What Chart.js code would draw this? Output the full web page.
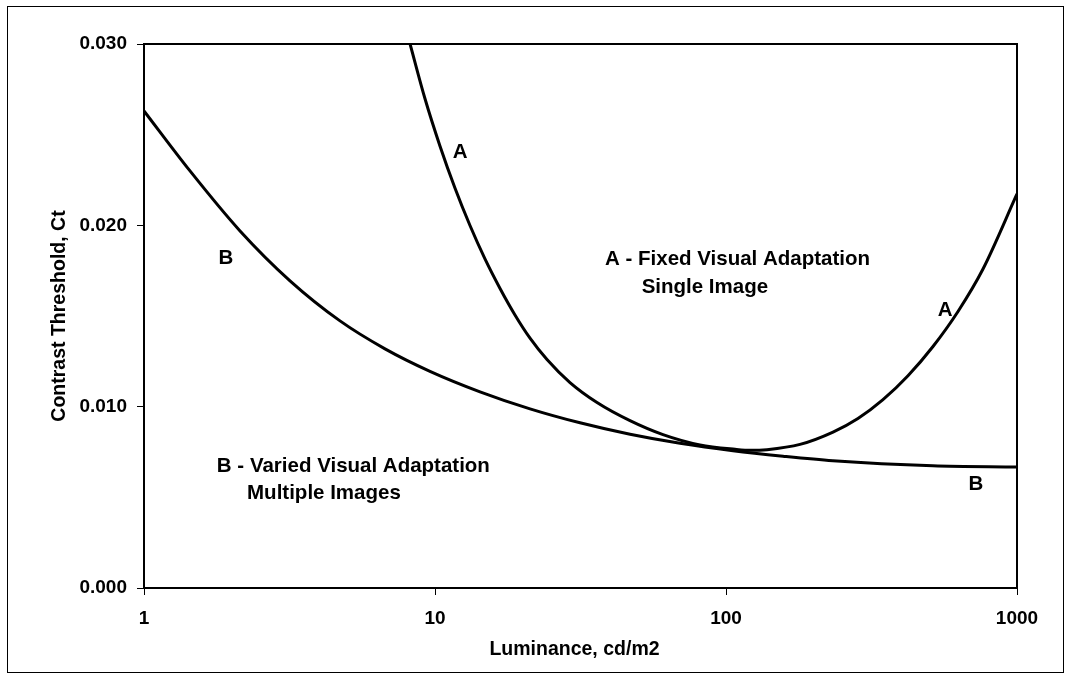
<!DOCTYPE html>
<html>
<head>
<meta charset="utf-8">
<title>Contrast Threshold vs Luminance</title>
<script src="https://cdn.jsdelivr.net/npm/chart.js@4/dist/chart.umd.min.js"></script>
<style>
  html, body { margin: 0; padding: 0; background: #fff; }
  #wrap { width: 1070px; height: 679px; }
</style>
</head>
<body>
<div id="wrap"><canvas id="chart" width="1070" height="679"></canvas></div>
<script>
// Curve A: fixed visual adaptation, single image
const luminanceA = [8.21, 9.24, 10.4, 11.71, 13.19, 14.85, 16.73, 18.83, 21.21, 24.26, 29.1, 36.04, 46.78, 60.74, 81.4, 107.4, 121.9, 138.3, 179.6, 233.2, 284.1, 346.3, 422.1, 514.4, 627, 764.1, 1000];
const contrastA  = [0.03000, 0.02698, 0.02438, 0.02206, 0.01999, 0.01815, 0.01652, 0.01506, 0.01378, 0.01260, 0.01133, 0.01023, 0.00923, 0.00846, 0.00789, 0.00765, 0.00759, 0.00763, 0.00792, 0.00860, 0.00935, 0.01039, 0.01171, 0.01332, 0.01525, 0.01759, 0.02173];

// Curve B: varied visual adaptation, multiple images
const luminanceB = [1, 1.439, 2.138, 3.175, 4.716, 6.733, 9.61, 14.28, 21.21, 31.5, 46.8, 69.5, 105.7, 157, 233, 514, 1000];
const contrastB  = [0.02631, 0.02300, 0.01969, 0.01694, 0.01473, 0.01319, 0.01195, 0.01082, 0.00988, 0.00911, 0.00848, 0.00798, 0.00757, 0.00727, 0.00702, 0.00674, 0.00667];

// Axis ticks
const xTicks = [1, 10, 100, 1000];
const yTicks = [0, 0.010, 0.020, 0.030];

// Axis titles
const xTitle = 'Luminance, cd/m2';
const yTitle = 'Contrast Threshold, Ct';

// Text labels placed in data coordinates (luminance, contrast)
const notes = [
  { text: 'A', x: 12.2, y: 0.0240, align: 'center' },
  { text: 'B', x: 1.91, y: 0.0182, align: 'center' },
  { text: 'A - Fixed Visual Adaptation', x: 38.4, y: 0.0181, align: 'left' },
  { text: 'Single Image', x: 51.3, y: 0.0166, align: 'left' },
  { text: 'A', x: 566, y: 0.0153, align: 'center' },
  { text: 'B', x: 723, y: 0.0057, align: 'center' },
  { text: 'B - Varied Visual Adaptation', x: 1.78, y: 0.0067, align: 'left' },
  { text: 'Multiple Images', x: 2.26, y: 0.0052, align: 'left' }
];

const FONT = '"Liberation Sans", Arial, sans-serif';

const pairs = (xs, ys) => xs.map((x, i) => ({ x: x, y: ys[i] }));

const decorations = {
  id: 'decorations',
  afterDraw(chart) {
    const ctx = chart.ctx;
    const a = chart.chartArea;
    const sx = chart.scales.x, sy = chart.scales.y;
    ctx.save();
    // outer frame
    ctx.strokeStyle = '#000';
    ctx.lineWidth = 1;
    ctx.strokeRect(7.5, 6.5, 1056, 666);
    // plot frame: top and right edges
    ctx.lineWidth = 2;
    ctx.beginPath();
    ctx.moveTo(a.left, a.top);
    ctx.lineTo(a.right, a.top);
    ctx.lineTo(a.right, a.bottom);
    ctx.stroke();
    // notes
    ctx.fillStyle = '#000';
    ctx.font = 'bold 20.5px ' + FONT;
    ctx.textBaseline = 'middle';
    notes.forEach(n => {
      ctx.textAlign = n.align;
      ctx.fillText(n.text, sx.getPixelForValue(n.x), sy.getPixelForValue(n.y));
    });
    // axis titles
    ctx.font = 'bold 19.5px ' + FONT;
    ctx.textAlign = 'center';
    ctx.fillText(xTitle, (a.left + a.right) / 2 - 6, 650);
    ctx.translate(60, (a.top + a.bottom) / 2);
    ctx.rotate(-Math.PI / 2);
    ctx.fillText(yTitle, 0, 0);
    ctx.restore();
  }
};

new Chart(document.getElementById('chart'), {
  type: 'line',
  data: {
    datasets: [
      {
        label: 'A',
        data: pairs(luminanceA, contrastA),
        borderColor: '#000',
        borderWidth: 3,
        pointRadius: 0,
        cubicInterpolationMode: 'monotone',
        fill: false
      },
      {
        label: 'B',
        data: pairs(luminanceB, contrastB),
        borderColor: '#000',
        borderWidth: 3,
        pointRadius: 0,
        cubicInterpolationMode: 'monotone',
        fill: false
      }
    ]
  },
  options: {
    responsive: false,
    animation: false,
    devicePixelRatio: 1,
    layout: { padding: { top: 44, right: 53, bottom: 0, left: 0 } },
    plugins: {
      legend: { display: false },
      tooltip: { enabled: false },
      title: { display: false }
    },
    scales: {
      x: {
        type: 'logarithmic',
        min: 1,
        max: 1000,
        afterBuildTicks: s => { s.ticks = xTicks.map(v => ({ value: v, major: true })); },
        afterFit: s => { s.height = 91; },
        ticks: {
          color: '#000',
          font: { family: FONT, size: 19, weight: 'bold' },
          padding: 12,
          maxRotation: 0,
          autoSkip: false,
          callback: v => String(v)
        },
        grid: { drawOnChartArea: false, drawTicks: true, tickLength: 7, color: '#000', lineWidth: 1 },
        border: { display: true, color: '#000', width: 2 }
      },
      y: {
        type: 'linear',
        min: 0,
        max: 0.030,
        afterBuildTicks: s => { s.ticks = yTicks.map(v => ({ value: v })); },
        afterFit: s => { s.width = 144; },
        ticks: {
          color: '#000',
          font: { family: FONT, size: 19, weight: 'bold' },
          padding: 10,
          callback: v => Number(v).toFixed(3)
        },
        grid: { drawOnChartArea: false, drawTicks: true, tickLength: 7, color: '#000', lineWidth: 1 },
        border: { display: true, color: '#000', width: 2 }
      }
    }
  },
  plugins: [decorations]
});
</script>
</body>
</html>
